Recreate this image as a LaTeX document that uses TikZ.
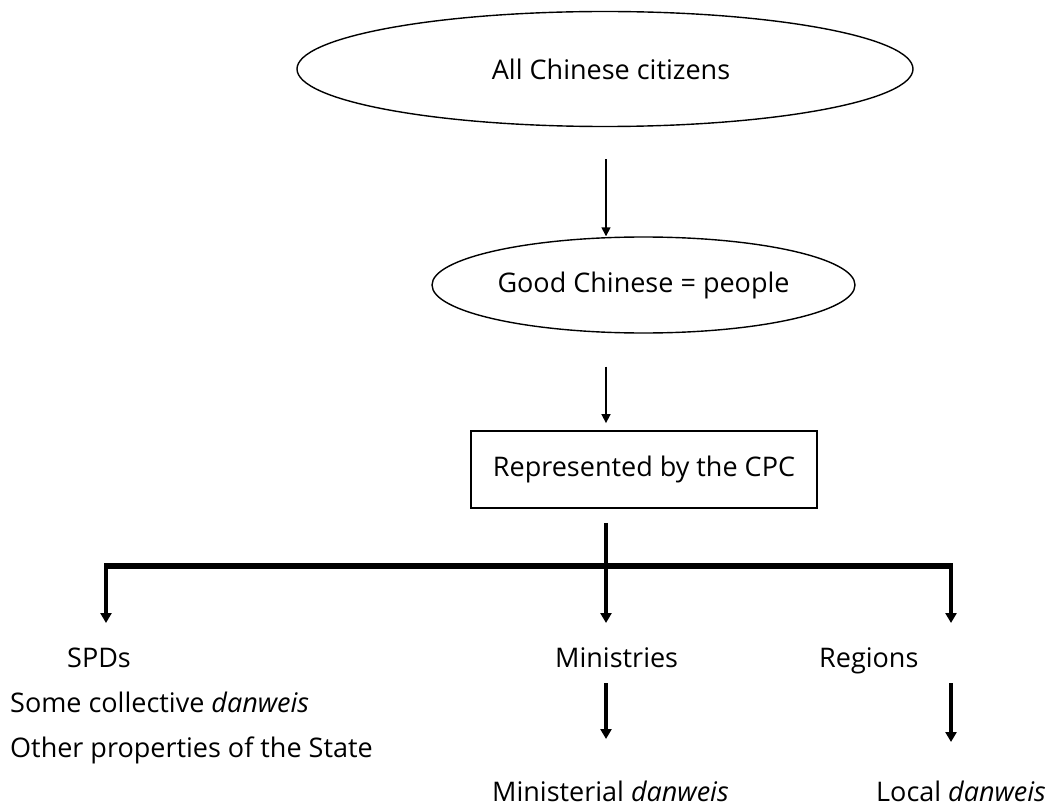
\documentclass[tikz,border=0pt]{standalone}
\usepackage{fontspec}
\setmainfont{Open Sans}
\usetikzlibrary{shapes.geometric,arrows.meta}

\begin{document}
\begin{tikzpicture}[x=1pt,y=-1pt]
  \tikzset{oval/.style = {shape=ellipse,draw,line width=1.4pt,inner sep=0pt}}
  \tikzset{box/.style = {shape=rectangle,draw,line width=1.8pt,inner sep=0pt,minimum width=346pt,minimum height=77pt}}
  \tikzset{lbl/.style = {anchor=base west,inner sep=0pt,font=\fontsize{27}{32}\selectfont}}
  \tikzset{thinarr/.style = {-{Triangle[length=9pt,width=9pt]},line width=1.6pt}}
  \tikzset{thickarr/.style = {-{Triangle[length=10pt,width=11pt]},line width=4.2pt}}
  \useasboundingbox (0,0) rectangle (1055,805);
	\node[oval,minimum width=616pt,minimum height=115pt,font=\fontsize{27}{32}\selectfont] (all) at (605,69) {\hspace*{12pt}All Chinese citizens};
	\node[oval,minimum width=423pt,minimum height=96pt,font=\fontsize{27}{32}\selectfont] (good) at (643.5,285) {Good Chinese = people};
	\node[box,font=\fontsize{27}{32}\selectfont] (cpc) at (644,469.5) {Represented by the CPC};

	\coordinate (left) at (106,566);
	\coordinate (mid) at (606,566);
	\coordinate (right) at (951,566);

	\node[lbl] (spd) at (67,667) {SPDs};
	\node[lbl] (coll) at (10,712) {Some collective \textit{danweis}};
	\node[lbl] (prop) at (10,757) {Other properties of the State};
	\node[lbl] (min) at (555,667) {Ministries};
	\node[lbl] (reg) at (819,667) {Regions};
	\node[lbl] (mind) at (492,801) {Ministerial \textit{danweis}};
	\node[lbl] (loc) at (876,801) {Local \textit{danweis}};

    \draw[thinarr,shorten <=32pt] (mid |- all.south) -- (mid |- good.north);
    \draw[thinarr,shorten <=33pt,shorten >=7pt] (mid |- good.south) -- (mid |- cpc.north);
    \draw[line width=4.2pt,shorten <=14pt] (mid |- cpc.south) -- (mid);
    \draw[line width=5.5pt] ([xshift=-2pt]left) -- ([xshift=2pt]right);
    \foreach \c in {left,mid,right}
    \draw[thickarr] (\c) -- ++(0,57);
    \draw[thickarr] ([yshift=-16pt]mid |- min.base) -- ([yshift=62pt]mid |- mind.base);
    \draw[thickarr] ([yshift=-16pt]right |- reg.base) -- ([yshift=59pt]right |- loc.base);
\end{tikzpicture}
\end{document}
